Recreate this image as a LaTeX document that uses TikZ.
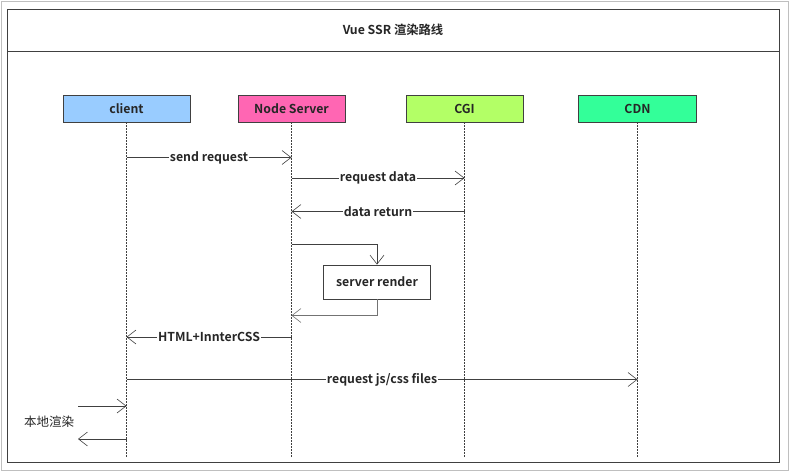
\documentclass[tikz,border=0pt]{standalone}
\usepackage{fontspec}
\setmainfont{Noto Sans CJK SC}
\newfontfamily\cjkbold{Noto Sans CJK SC Bold}
\usetikzlibrary{arrows.meta}
\definecolor{linec}{HTML}{404040}
\definecolor{clientc}{HTML}{99CCFF}
\definecolor{nodec}{HTML}{FF66B3}
\definecolor{cgic}{HTML}{B3FF66}
\definecolor{cdnc}{HTML}{33FF99}
\tikzset{
  txt/.style={font=\cjkbold\fontsize{12.3}{14}\selectfont, text=black!85},
  actor/.style={draw=linec, line width=0.8pt, minimum height=27pt, inner sep=0pt, txt},
  life/.style={draw=linec, line width=1.3pt, dash pattern=on 1.3pt off 1.7pt},
  msg/.style={draw=linec, line width=0.7pt, -{Straight Barb[length=9pt,width=14pt,line width=0.6pt]}},
  lbl/.style={fill=white, inner sep=1pt, txt},
}
\begin{document}
\begin{tikzpicture}[x=1pt,y=-1pt]
\useasboundingbox (0,0) rectangle (789,471);
\draw[black!25, line width=1pt] (1,1) rectangle (788,470);
\draw[linec, line width=0.8pt] (7.5,9.5) rectangle (779.5,462.5);
\draw[linec, line width=0.8pt] (7.5,51.5) -- (779.5,51.5);
\node[txt] (title) at (393,30) {Vue SSR 渲染路线};

\node[actor, fill=clientc, minimum width=127pt] (client) at (126.5,108.5) {client};
\node[actor, fill=nodec, minimum width=107pt] (ns) at (291.5,108.5) {Node Server};
\node[actor, fill=cgic, minimum width=117pt] (cgi) at (464.5,108.5) {CGI};
\node[actor, fill=cdnc, minimum width=118pt] (cdn) at (637.5,108.5) {CDN};

\coordinate (clientE) at (126.5,457);
\coordinate (nsE) at (291.5,457);
\coordinate (cgiE) at (464.5,457);
\coordinate (cdnE) at (637.5,457);
\draw[life] (client.south) -- (clientE);
\draw[life] (ns.south) -- (nsE);
\draw[life] (cgi.south) -- (cgiE);
\draw[life] (cdn.south) -- (cdnE);

% messages
\draw[msg] (client.south |- 0,157.5) -- node[lbl]{send request} (ns.south |- 0,157.5);
\draw[msg] (ns.south |- 0,178) -- node[lbl]{request data} (cgi.south |- 0,178);
\draw[msg] (cgi.south |- 0,211.5) -- node[lbl]{data return} (ns.south |- 0,211.5);

\node[draw=linec, line width=0.8pt, minimum width=107pt, minimum height=34pt, inner sep=0pt, txt] (sr) at (377,282) {server render};
\draw[msg] (ns.south |- 0,244.5) -| (sr.north);
\draw[msg, draw=black!55] (sr.south) |- (ns.south |- 0,315.5);

\draw[msg] (ns.south |- 0,337) -- node[lbl]{HTML+InnterCSS} (client.south |- 0,337);
\draw[msg] (client.south |- 0,379.5) -- node[lbl, pos=0.5]{request js/css files} (cdn.south |- 0,379.5);

\coordinate (in1) at (78,406);
\coordinate (out1) at (78,439);
\draw[msg] (in1) -- (client.south |- in1);
\draw[msg] (client.south |- out1) -- (out1);
\node[font=\fontsize{12.5}{14}\selectfont, text=black!85] (local) at (49,422) {本地渲染};
\end{tikzpicture}
\end{document}
